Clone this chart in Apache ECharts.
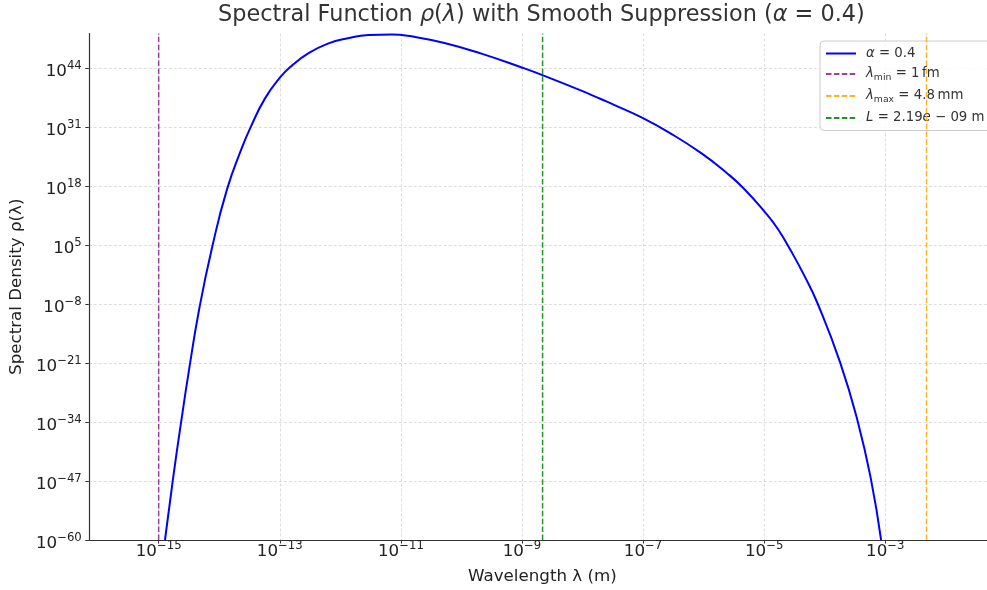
<!DOCTYPE html>
<html>
<head>
<meta charset="utf-8">
<script src="https://cdn.jsdelivr.net/npm/echarts@6/dist/echarts.min.js"></script>
<style>html,body{margin:0;padding:0;background:#fff;}#c{width:987px;height:590px;}</style>
</head>
<body>
<div id="c"></div>
<script>
// log10 of wavelength (m)
const lambdaExp = [-14.896, -14.764, -14.632, -14.500, -14.335, -14.120, -13.873, -13.625, -13.477, -13.246,
  -12.998, -12.800, -12.536, -12.206, -11.876, -11.535, -11.155, -10.825, -10.281, -9.670,
  -8.982, -8.652, -8.020, -7.690, -7.470, -6.992, -6.589, -6.040, -5.599, -5.325,
  -4.995, -4.774, -4.554, -4.335, -4.114, -3.746, -3.454, -3.234, -3.069];
// log10 of spectral density
const rhoExp = [-60.0, -46.61, -34.27, -22.64, -9.43, 4.32, 17.20, 26.45, 31.08, 37.25,
  41.87, 44.52, 47.16, 49.36, 50.57, 51.28, 51.39, 50.97, 49.52, 47.16,
  44.01, 42.38, 39.01, 37.11, 35.83, 32.89, 29.93, 25.24, 20.66, 17.29,
  12.36, 8.52, 3.61, -1.81, -8.00, -20.86, -33.92, -46.81, -60.0];
const xTickExps = [-15, -13, -11, -9, -7, -5, -3];
const yTickExps = [-60, -47, -34, -21, -8, 5, 18, 31, 44];
const lambdaMin = 1e-15;      // 1 fm
const lambdaMax = 4.8e-3;     // 4.8 mm
const Lval = 2.19e-9;         // L
const xRange = [-16.154, -1.320];
const yRange = [-60, 51.6];

const chart = echarts.init(document.getElementById('c'), null, {renderer: 'canvas'});
const FONT = 'DejaVu Sans';
const mainData = lambdaExp.map((x, i) => [x, rhoExp[i]]);
function vline(v) { const e = Math.log10(v); return [[e, yRange[0]], [e, yRange[1]]]; }
function sup(v) { return '{b|10}{e|' + (v < 0 ? '\u2212' + Math.abs(v) : v) + '}'; }
const supRich = {
  b: {fontFamily: FONT, fontSize: 16.7, color: '#222', lineHeight: 24},
  e: {fontFamily: FONT, fontSize: 11.7, color: '#222', lineHeight: 12, verticalAlign: 'top'}
};
const legendNames = {
  'alpha': '{i|\u03b1} = 0.4',
  'lmin': '{i|\u03bb}{s|min} = 1\u2009fm',
  'lmax': '{i|\u03bb}{s|max} = 4.8\u2009mm',
  'L': '{i|L} = 2.19{i|e} \u2212 09 m'
};

chart.setOption({
  animation: false,
  backgroundColor: '#fff',
  title: {
    text: '{n|Spectral Function }{i|\u03c1}{n|(}{i|\u03bb}{n|) with Smooth Suppression (}{i|\u03b1}{n| = 0.4)}',
    left: 218, top: 4, padding: 0,
    textStyle: {
      fontFamily: FONT, fontSize: 22.4, fontWeight: 'normal', color: '#333',
      rich: {
        n: {fontFamily: FONT, fontSize: 22.4, color: '#333'},
        i: {fontFamily: FONT, fontSize: 22.4, color: '#333', fontStyle: 'italic'}
      }
    }
  },
  grid: {left: 87, right: 0, top: 33.5, bottom: 49.5, containLabel: false},
  legend: {
    orient: 'vertical', left: 820, top: 41,
    padding: [6, 8, 6, 5], itemWidth: 30, itemHeight: 14, itemGap: 7.5,
    backgroundColor: 'rgba(255,255,255,0.85)', borderColor: '#cccccc', borderWidth: 1, borderRadius: 4,
    itemStyle: {opacity: 0},
    data: ['alpha', 'lmin', 'lmax', 'L'],
    formatter: n => legendNames[n],
    textStyle: {
      fontFamily: FONT, fontSize: 13.3, color: '#333', padding: [0, 0, 0, 5],
      rich: {
        i: {fontFamily: FONT, fontSize: 13.3, color: '#333', fontStyle: 'italic', lineHeight: 16},
        s: {fontFamily: FONT, fontSize: 9.3, color: '#333', verticalAlign: 'bottom', lineHeight: 9}
      }
    }
  },
  xAxis: {
    type: 'value', min: xRange[0], max: xRange[1],
    name: 'Wavelength \u03bb (m)', nameLocation: 'middle', nameGap: 28,
    nameTextStyle: {fontFamily: FONT, fontSize: 16.7, color: '#222', padding: [0, 0, 0, 9]},
    axisLine: {show: true, onZero: false, lineStyle: {color: '#333', width: 1.2}},
    axisTick: {show: true, length: 3.5, lineStyle: {color: '#333', width: 1}, customValues: xTickExps},
    axisLabel: {margin: 0, customValues: xTickExps, formatter: v => sup(v), rich: supRich},
    splitLine: {show: true, lineStyle: {color: '#d4d4d4', width: 0.8, type: [3, 2]}}
  },
  yAxis: {
    type: 'value', min: yRange[0], max: yRange[1],
    name: 'Spectral Density \u03c1(\u03bb)', nameLocation: 'middle', nameGap: 55,
    nameTextStyle: {fontFamily: FONT, fontSize: 16.7, color: '#222'},
    axisLine: {show: true, onZero: false, lineStyle: {color: '#333', width: 1.2}},
    axisTick: {show: true, length: 3.5, lineStyle: {color: '#333', width: 1}, customValues: yTickExps},
    axisLabel: {margin: 7, customValues: yTickExps, formatter: v => sup(v), rich: supRich, padding: [7, 0, 0, 0]},
    splitLine: {show: true, lineStyle: {color: '#d4d4d4', width: 0.8, type: [3, 2]}}
  },
  series: [
    {name: 'alpha', type: 'line', data: mainData, showSymbol: false, symbol: 'none',
     smooth: 0.5,
     lineStyle: {color: '#0000ff', width: 2}, itemStyle: {color: '#0000ff'}, z: 3},
    {name: 'lmin', type: 'line', data: vline(lambdaMin), symbol: 'none',
     lineStyle: {color: '#800080', width: 1.5, type: [5.5, 2.4], opacity: 0.75}, itemStyle: {color: '#800080'}, z: 4},
    {name: 'lmax', type: 'line', data: vline(lambdaMax), symbol: 'none',
     lineStyle: {color: '#ffa500', width: 1.5, type: [5.5, 2.4], opacity: 0.85}, itemStyle: {color: '#ffa500'}, z: 4},
    {name: 'L', type: 'line', data: vline(Lval), symbol: 'none',
     lineStyle: {color: '#008000', width: 1.5, type: [5.5, 2.4], opacity: 0.85}, itemStyle: {color: '#008000'}, z: 4}
  ]
});
</script>
</body>
</html>
